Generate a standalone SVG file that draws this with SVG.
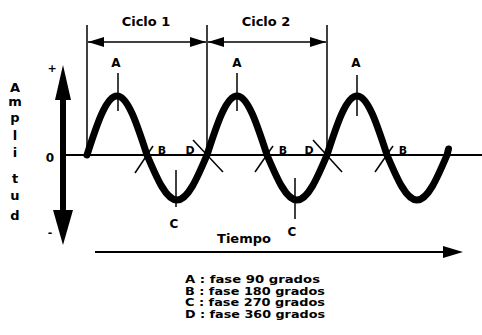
<svg xmlns="http://www.w3.org/2000/svg" width="482" height="335" viewBox="0 0 482 335">
<style>
.t{font-family:"DejaVu Sans","Liberation Sans",sans-serif;font-weight:bold;fill:#000}
.thin{stroke:#000;stroke-width:1.5;fill:none}
.wave{stroke:#000;stroke-width:7;fill:none;stroke-linecap:round;stroke-linejoin:round}
</style>
<defs>
<marker id="ah" markerUnits="userSpaceOnUse" markerWidth="16" markerHeight="10" refX="16" refY="5" orient="auto-start-reverse"><path d="M0,0 L16,5 L0,10 z" fill="#000"/></marker>
</defs>
<rect width="482" height="335" fill="#fff"/>
<g id="axes">
<line x1="65" y1="155" x2="482" y2="155" stroke="#000" stroke-width="2"/>
<rect x="60" y="95" width="6" height="118" fill="#000"/>
<polygon points="63,65 71,100 55,100" fill="#000"/>
<polygon points="53,210 73,210 63,245" fill="#000"/>
<line x1="95" y1="252" x2="446" y2="252" stroke="#000" stroke-width="2"/>
<polygon points="443,246 463,252 443,258" fill="#000"/>
</g>
<g id="cycle-lines">
<line class="thin" x1="87" y1="25" x2="87" y2="155"/>
<line class="thin" x1="207" y1="25" x2="207" y2="155"/>
<line class="thin" x1="327" y1="25" x2="327" y2="155"/>
<line class="thin" x1="88" y1="42" x2="206" y2="42" marker-start="url(#ah)" marker-end="url(#ah)"/>
<line class="thin" x1="208" y1="42" x2="326" y2="42" marker-start="url(#ah)" marker-end="url(#ah)"/>
</g>
<g id="ticks">
<line class="thin" x1="118" y1="73" x2="118" y2="111"/>
<line class="thin" x1="237" y1="73" x2="237" y2="111"/>
<line class="thin" x1="357" y1="75" x2="357" y2="116"/>
<line class="thin" x1="176" y1="170" x2="176" y2="207"/>
<line class="thin" x1="295" y1="178" x2="295" y2="219"/>
<line class="thin" x1="135" y1="173" x2="153" y2="146"/>
<line class="thin" x1="193" y1="140" x2="223" y2="172"/>
<line class="thin" x1="255" y1="172" x2="273" y2="146"/>
<line class="thin" x1="313" y1="140" x2="342" y2="172"/>
<line class="thin" x1="375" y1="172" x2="393" y2="146"/>
</g>
<g id="wave">
<path class="wave" d="M87,155 C96.78,124.77 106.14,96 117,96 C127.86,96 137.22,124.77 147,155 C156.78,178.05 166.14,200 177,200 C187.86,200 197.22,178.05 207,155 C216.78,124.77 226.14,96 237,96 C247.86,96 257.22,124.77 267,155 C276.78,178.05 286.14,200 297,200 C307.86,200 317.22,178.05 327,155 C336.78,124.77 346.14,96 357,96 C367.86,96 377.22,124.77 387,155 C396.78,178.05 406.14,200 417,200 C427.86,200 437.22,178.05 447,155 L448.5,149"/>
</g>
<g id="labels">
<text class="t" x="146" y="26" font-size="13" text-anchor="middle">Ciclo 1</text>
<text class="t" x="266" y="26" font-size="13" text-anchor="middle">Ciclo 2</text>
<text class="t" x="116" y="67" font-size="12" text-anchor="middle">A</text>
<text class="t" x="237" y="67" font-size="12" text-anchor="middle">A</text>
<text class="t" x="356" y="67" font-size="12" text-anchor="middle">A</text>
<text class="t" x="174" y="228" font-size="12" text-anchor="middle">C</text>
<text class="t" x="292" y="236" font-size="12" text-anchor="middle">C</text>
<text class="t" x="162" y="154" font-size="11" text-anchor="middle">B</text>
<text class="t" x="283" y="154" font-size="11" text-anchor="middle">B</text>
<text class="t" x="403" y="154" font-size="11" text-anchor="middle">B</text>
<text class="t" x="190" y="154" font-size="11" text-anchor="middle">D</text>
<text class="t" x="309" y="154" font-size="11" text-anchor="middle">D</text>
<text class="t" x="52" y="72" font-size="11" text-anchor="middle">+</text>
<text class="t" x="50" y="236" font-size="11" text-anchor="middle">-</text>
<text class="t" x="50" y="162" font-size="12" text-anchor="middle">0</text>
<text class="t" x="244" y="243" font-size="13" text-anchor="middle">Tiempo</text>
</g>
<g id="amplitud" class="t" font-size="13" text-anchor="middle">
<text x="15" y="92">A</text>
<text x="15" y="106">m</text>
<text x="15" y="122">p</text>
<text x="15" y="140">l</text>
<text x="15" y="157">i</text>
<text x="15" y="183">t</text>
<text x="15" y="200">u</text>
<text x="15" y="220">d</text>
</g>
<g id="legend" class="t" font-size="10.5">
<text x="185" y="283" textLength="135" lengthAdjust="spacingAndGlyphs">A : fase 90 grados</text>
<text x="185" y="294.5" textLength="140" lengthAdjust="spacingAndGlyphs">B : fase 180 grados</text>
<text x="185" y="306" textLength="140" lengthAdjust="spacingAndGlyphs">C : fase 270 grados</text>
<text x="185" y="317.5" textLength="140" lengthAdjust="spacingAndGlyphs">D : fase 360 grados</text>
</g>
</svg>
